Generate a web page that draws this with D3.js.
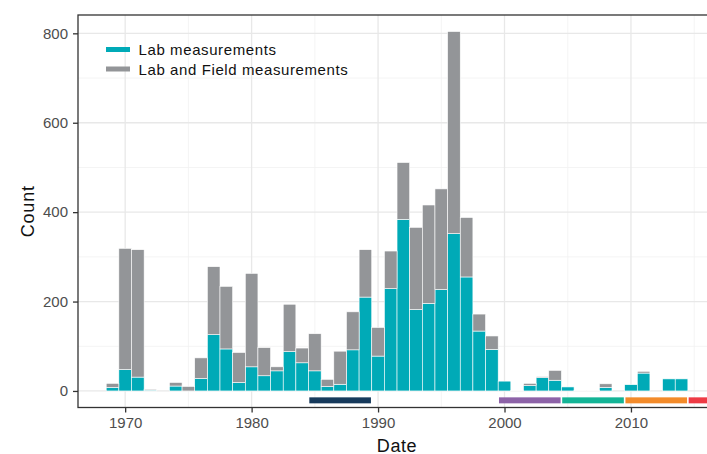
<!DOCTYPE html>
<html>
<head>
<meta charset="utf-8">
<script src="https://cdn.jsdelivr.net/npm/d3@7"></script>
<style>
  html, body { margin: 0; padding: 0; background: #fff; }
  svg { display: block; font-family: "Liberation Sans", Arial, Helvetica, sans-serif; }
</style>
</head>
<body>
<svg id="chart" width="707" height="454"></svg>
<script>
// Yearly counts of measurements
const years = d3.range(1969, 2015);
const labCounts = [
  8, 48, 31, 2, 0, 11, 0, 28, 126, 94,
  19, 54, 34, 45, 88, 63, 45, 10, 15, 92,
  210, 78, 229, 384, 182, 196, 227, 352, 255, 134,
  93, 22, 0, 12, 30, 24, 9, 0, 0, 8,
  0, 14, 40, 0, 27, 27
];
const labFieldCounts = [
  9, 271, 285, 2, 0, 8, 10, 46, 152, 140,
  67, 209, 63, 9, 106, 33, 83, 16, 74, 85,
  106, 64, 84, 127, 184, 220, 225, 452, 133, 38,
  30, 0, 1, 5, 2, 22, 0, 1, 1, 8,
  0, 0, 4, 0, 0, 0
];
const seriesNames = ["Lab measurements", "Lab and Field measurements"];
const seriesColors = ["#00aab7", "#939598"];

// Period bands drawn under the bars
const periodStart = [1984.5, 1999.5, 2004.5, 2009.5, 2014.5];
const periodEnd   = [1989.5, 2004.5, 2009.5, 2014.5, 2019.5];
const periodColors = ["#163a5c", "#8d63a8", "#14b496", "#f38b2a", "#ee3b45"];
const periodLevel = -21;

const yTicks = [0, 200, 400, 600, 800];
const yMinor = [100, 300, 500, 700];
const xTicks = [1970, 1980, 1990, 2000, 2010];
const xMinor = [1975, 1985, 1995, 2005, 2015];

const svg = d3.select("#chart");
const panel = { left: 78, top: 15, right: 722, bottom: 407.5 };

const x = d3.scaleLinear().domain([1966.27, 2017.2]).range([panel.left, panel.right]);
const y = d3.scaleLinear().domain([-37, 841]).range([panel.bottom, panel.top]);

svg.append("defs").append("clipPath").attr("id", "panel-clip")
  .append("rect")
  .attr("x", panel.left).attr("y", panel.top)
  .attr("width", panel.right - panel.left).attr("height", panel.bottom - panel.top);

const g = svg.append("g").attr("clip-path", "url(#panel-clip)");

// grid
g.selectAll(".ymin").data(yMinor).join("line")
  .attr("x1", panel.left).attr("x2", panel.right)
  .attr("y1", d => y(d)).attr("y2", d => y(d))
  .attr("stroke", "#f1f1f1").attr("stroke-width", 0.8);
g.selectAll(".xmin").data(xMinor).join("line")
  .attr("y1", panel.top).attr("y2", panel.bottom)
  .attr("x1", d => x(d)).attr("x2", d => x(d))
  .attr("stroke", "#f1f1f1").attr("stroke-width", 0.8);
g.selectAll(".ymaj").data(yTicks).join("line")
  .attr("x1", panel.left).attr("x2", panel.right)
  .attr("y1", d => y(d)).attr("y2", d => y(d))
  .attr("stroke", "#e8e8e8").attr("stroke-width", 1.3);
g.selectAll(".xmaj").data(xTicks).join("line")
  .attr("y1", panel.top).attr("y2", panel.bottom)
  .attr("x1", d => x(d)).attr("x2", d => x(d))
  .attr("stroke", "#e8e8e8").attr("stroke-width", 1.3);

// stacked bars
const rows = years.map((yr, i) => ({ year: yr, lab: labCounts[i], labField: labFieldCounts[i] }));
const stacked = d3.stack().keys(["lab", "labField"])(rows);

g.selectAll(".series").data(stacked).join("g")
  .attr("fill", (d, i) => seriesColors[i])
  .selectAll("rect").data(d => d.filter(s => s[1] - s[0] > 0)).join("rect")
  .attr("x", d => x(d.data.year - 0.5))
  .attr("width", d => x(d.data.year + 0.5) - x(d.data.year - 0.5))
  .attr("y", d => y(d[1]))
  .attr("height", d => y(d[0]) - y(d[1]))
  .attr("stroke", "#fff").attr("stroke-width", 0.6);

// period bands
g.selectAll(".period").data(periodStart).join("rect")
  .attr("x", (d, i) => x(d) + 0.8)
  .attr("width", (d, i) => x(periodEnd[i]) - x(d) - 1.6)
  .attr("y", y(periodLevel) - 3)
  .attr("height", 6)
  .attr("fill", (d, i) => periodColors[i]);

// panel border
svg.append("rect")
  .attr("x", panel.left).attr("y", panel.top)
  .attr("width", panel.right - panel.left).attr("height", panel.bottom - panel.top)
  .attr("fill", "none").attr("stroke", "#333").attr("stroke-width", 1.3);

// axes
const yAxis = d3.axisLeft(y).tickValues(yTicks).tickSize(5).tickPadding(5);
const xAxis = d3.axisBottom(x).tickValues(xTicks).tickFormat(d3.format("d")).tickSize(5).tickPadding(4.5);

const ya = svg.append("g").attr("transform", `translate(${panel.left},0)`).call(yAxis);
const xa = svg.append("g").attr("transform", `translate(0,${panel.bottom})`).call(xAxis);
[ya, xa].forEach(a => {
  a.select(".domain").remove();
  a.selectAll(".tick line").attr("stroke", "#333").attr("stroke-width", 1.3);
  a.selectAll(".tick text").attr("fill", "#4d4d4d").style("font-size", "15px")
    .style("font-family", "'Liberation Sans', Arial, sans-serif");
});

// axis titles
svg.append("text")
  .attr("x", 397).attr("y", 451.5)
  .attr("text-anchor", "middle").style("font-size", "18px").style("letter-spacing", "0.6px")
  .attr("fill", "#111")
  .text("Date");
svg.append("text")
  .attr("transform", `translate(34,${(panel.top + panel.bottom) / 2}) rotate(-90)`)
  .attr("text-anchor", "middle").style("font-size", "18px").style("letter-spacing", "0.8px")
  .attr("fill", "#111")
  .text("Count");

// legend
const legend = svg.append("g").attr("transform", "translate(106,40)");
seriesNames.forEach((name, i) => {
  const row = legend.append("g").attr("transform", `translate(0,${i * 19.5})`);
  row.append("rect").attr("x", 0).attr("y", 7).attr("width", 24).attr("height", 5)
    .attr("fill", seriesColors[i]);
  row.append("text").attr("x", 32.5).attr("y", 15.3)
    .style("font-size", "15px").style("letter-spacing", "0.6px")
    .attr("fill", "#111").text(name);
});
</script>
</body>
</html>
